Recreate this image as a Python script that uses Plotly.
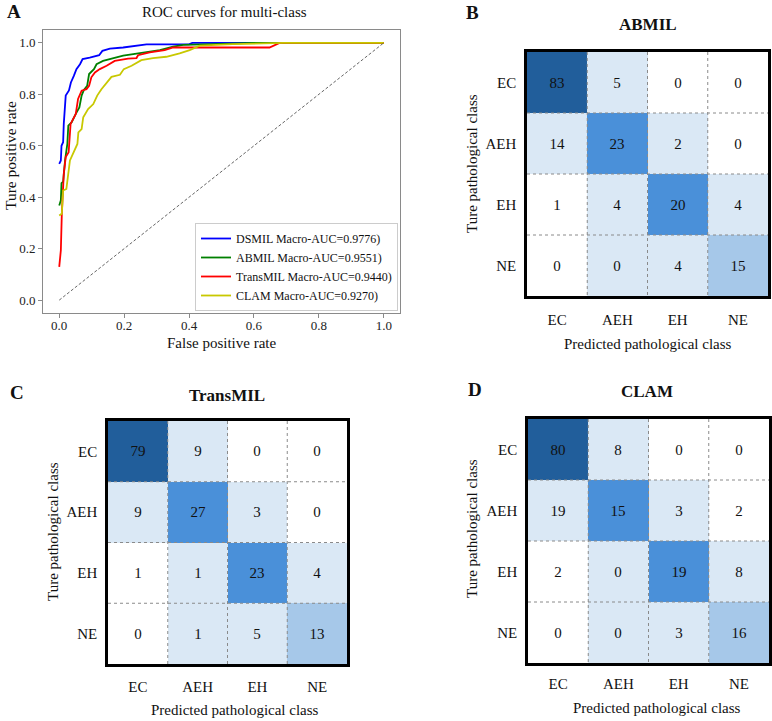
import plotly.graph_objects as go

# ---------------- data ----------------
MODELS = ["DSMIL", "ABMIL", "TransMIL", "CLAM"]
AUCS = ["0.9776", "0.9551", "0.9440", "0.9270"]
LINE_COLORS = ["#0000FF", "#008000", "#FF0000", "#C8C800"]

dsmil_fpr = [0, 0.005, 0.007, 0.012, 0.014, 0.02, 0.03, 0.036, 0.045, 0.053, 0.064, 0.072,
             0.094, 0.123, 0.133, 0.156, 0.197, 0.238, 0.269, 0.40, 0.41, 1.0]
dsmil_tpr = [0.53, 0.543, 0.60, 0.614, 0.685, 0.795, 0.815, 0.846, 0.872, 0.898, 0.917, 0.937,
             0.943, 0.952, 0.969, 0.978, 0.982, 0.988, 0.994, 0.994, 1.0, 1.0]

abmil_fpr = [0, 0.005, 0.007, 0.012, 0.018, 0.025, 0.028, 0.038, 0.051, 0.062, 0.069, 0.076,
             0.086, 0.092, 0.107, 0.115, 0.135, 0.166, 0.197, 0.228, 0.269, 0.31, 0.351,
             0.382, 0.474, 0.6, 1.0]
abmil_tpr = [0.368, 0.388, 0.455, 0.46, 0.543, 0.607, 0.678, 0.691, 0.724, 0.749, 0.795, 0.817,
             0.833, 0.879, 0.898, 0.917, 0.930, 0.941, 0.950, 0.956, 0.963, 0.972, 0.985,
             0.992, 0.995, 1.0, 1.0]

transmil_fpr = [0, 0.005, 0.008, 0.014, 0.02, 0.029, 0.035, 0.051, 0.058, 0.069, 0.084, 0.092,
                0.099, 0.11, 0.125, 0.146, 0.171, 0.212, 0.238, 0.243, 0.279, 0.325, 0.351,
                0.474, 0.648, 0.679, 1.0]
transmil_tpr = [0.129, 0.194, 0.336, 0.491, 0.556, 0.575, 0.685, 0.724, 0.782, 0.814, 0.820, 0.833,
                0.866, 0.885, 0.898, 0.911, 0.930, 0.939, 0.941, 0.952, 0.963, 0.972, 0.982,
                0.982, 0.982, 1.0, 1.0]

clam_fpr = [0, 0.008, 0.012, 0.022, 0.033, 0.045, 0.056, 0.059, 0.069, 0.074, 0.089, 0.105,
            0.117, 0.13, 0.144, 0.161, 0.187, 0.199, 0.223, 0.253, 0.289, 0.33, 0.371,
            0.402, 0.433, 0.535, 0.69, 1.0]
clam_tpr = [0.329, 0.336, 0.426, 0.432, 0.543, 0.575, 0.607, 0.652, 0.665, 0.711, 0.743, 0.762,
            0.795, 0.820, 0.840, 0.868, 0.876, 0.898, 0.911, 0.933, 0.941, 0.946, 0.959,
            0.972, 0.989, 0.995, 1.0, 1.0]

FPRS = [dsmil_fpr, abmil_fpr, transmil_fpr, clam_fpr]
TPRS = [dsmil_tpr, abmil_tpr, transmil_tpr, clam_tpr]

CLASSES = ["EC", "AEH", "EH", "NE"]
cm_abmil = [[83, 5, 0, 0], [14, 23, 2, 0], [1, 4, 20, 4], [0, 0, 4, 15]]
cm_transmil = [[79, 9, 0, 0], [9, 27, 3, 0], [1, 1, 23, 4], [0, 1, 5, 13]]
cm_clam = [[80, 8, 0, 0], [19, 15, 3, 2], [2, 0, 19, 8], [0, 0, 3, 16]]
# shading level of each cell (same design in all three matrices)
SHADE = [[4, 1, 0, 0], [1, 3, 1, 0], [0, 1, 3, 1], [0, 1, 1, 2]]
SHADE_COLORS = ["#FFFFFF", "#DAE8F5", "#A6C8E9", "#4A90D9", "#215E9B"]

FONT = "Liberation Serif, Times New Roman, serif"
W, H = 772, 721


def px(x):
    return x / W


def py(y):
    return 1 - y / H


fig = go.Figure()

# ---------------- Panel A: ROC ----------------
for m, auc, c, fx, ty in zip(MODELS, AUCS, LINE_COLORS, FPRS, TPRS):
    fig.add_trace(go.Scatter(x=fx, y=ty, mode="lines", line=dict(color=c, width=1.8),
                             name=f"{m} Macro-AUC={auc})", xaxis="x", yaxis="y"))
fig.add_trace(go.Scatter(x=[0, 1], y=[0, 1], mode="lines",
                         line=dict(color="#555555", width=0.9, dash="3px,2px"),
                         showlegend=False, xaxis="x", yaxis="y"))

ax_common = dict(showline=True, mirror=True, linecolor="#8a8a8a", linewidth=1,
                 ticks="outside", ticklen=4, tickcolor="#8a8a8a", showgrid=False,
                 zeroline=False, tickfont=dict(family=FONT, size=13, color="#222"))
fig.update_layout(
    xaxis=dict(domain=[px(43), px(400)], range=[-0.05, 1.05], anchor="y",
               tickvals=[0, 0.2, 0.4, 0.6, 0.8, 1.0], ticktext=["0.0", "0.2", "0.4", "0.6", "0.8", "1.0"],
               ticklabelstandoff=-4, **ax_common),
    yaxis=dict(domain=[py(313), py(30)], range=[-0.05, 1.05], anchor="x",
               tickvals=[0, 0.2, 0.4, 0.6, 0.8, 1.0], ticktext=["0.0", "0.2", "0.4", "0.6", "0.8", "1.0"],
               **ax_common),
)

# ---------------- Heatmaps ----------------
n = len(CLASSES)
colorscale = []
for i, col in enumerate(SHADE_COLORS):
    colorscale.append([i / len(SHADE_COLORS), col])
    colorscale.append([(i + 1) / len(SHADE_COLORS), col])

panels = [
    ("2", cm_abmil, (527, 768), (52, 296), 8),
    ("3", cm_transmil, (108, 347), (421, 664), 7),
    ("4", cm_clam, (528, 769), (419, 663), 5),
]
shapes = []
for k, cm, (x0, x1), (y0, y1), xstand in panels:
    fig.add_trace(go.Heatmap(
        z=SHADE, x=list(range(n)), y=list(range(n)), text=cm,
        texttemplate="%{text}", textfont=dict(family=FONT, size=15, color="#111"),
        colorscale=colorscale, zmin=-0.5, zmax=len(SHADE_COLORS) - 0.5,
        showscale=False, hoverinfo="skip", xaxis="x" + k, yaxis="y" + k))
    hm_ax = dict(showline=True, mirror=True, linecolor="black", linewidth=2.5,
                 ticks="", showgrid=False, zeroline=False,
                 tickvals=list(range(n)), ticktext=CLASSES,
                 tickfont=dict(family=FONT, size=15, color="#111"))
    fig.update_layout(**{
        "xaxis" + k: dict(domain=[px(x0), px(x1)], range=[-0.5, n - 0.5], anchor="y" + k,
                          ticklabelstandoff=xstand, **hm_ax),
        "yaxis" + k: dict(domain=[py(y1), py(y0)], range=[n - 0.5, -0.5], anchor="x" + k,
                          ticklabelstandoff=5, **hm_ax),
    })
    for b in range(1, n):
        shapes.append(dict(type="line", xref="x" + k, yref="y" + k, x0=b - 0.5, x1=b - 0.5,
                           y0=-0.5, y1=n - 0.5, line=dict(color="#8a8a8a", width=1, dash="dot")))
        shapes.append(dict(type="line", xref="x" + k, yref="y" + k, y0=b - 0.5, y1=b - 0.5,
                           x0=-0.5, x1=n - 0.5, line=dict(color="#8a8a8a", width=1, dash="dot")))

# ---------------- annotations ----------------
ann = []


def text(t, x, y, size, bold=False, angle=0):
    ann.append(dict(text=f"<b>{t}</b>" if bold else t, x=px(x), y=py(y), xref="paper", yref="paper",
                    showarrow=False, textangle=angle, xanchor="center", yanchor="middle",
                    font=dict(family=FONT, size=size, color="#111")))


text("A", 14, 12, 19, bold=True)
text("ROC curves for multi-class", 225, 12, 15)
text("False positive rate", 221, 343, 15)
text("Ture positive rate", 10, 156, 15.5, angle=-90)

text("B", 473, 13, 19, bold=True)
text("ABMIL", 648, 25, 17, bold=True)
text("Ture pathological class", 472, 163, 15, angle=-90)
text("Predicted pathological class", 648, 344, 15)

text("C", 17, 392, 19, bold=True)
text("TransMIL", 227, 395, 17, bold=True)
text("Ture pathological class", 53, 531, 15, angle=-90)
text("Predicted pathological class", 235, 710, 15)

text("D", 475, 389, 19, bold=True)
text("CLAM", 647, 391, 17, bold=True)
text("Ture pathological class", 472, 528, 15, angle=-90)
text("Predicted pathological class", 657, 708, 15)

fig.update_layout(
    width=W, height=H, margin=dict(l=0, r=0, t=0, b=0),
    paper_bgcolor="white", plot_bgcolor="white",
    font=dict(family=FONT, color="#111"),
    annotations=ann, shapes=shapes,
    legend=dict(x=px(398), y=py(311), xanchor="right", yanchor="bottom",
                bgcolor="white", bordercolor="#cccccc", borderwidth=1,
                font=dict(family=FONT, size=12, color="#111"),
                itemwidth=30, tracegroupgap=0),
)

fig.write_html("out.html")
